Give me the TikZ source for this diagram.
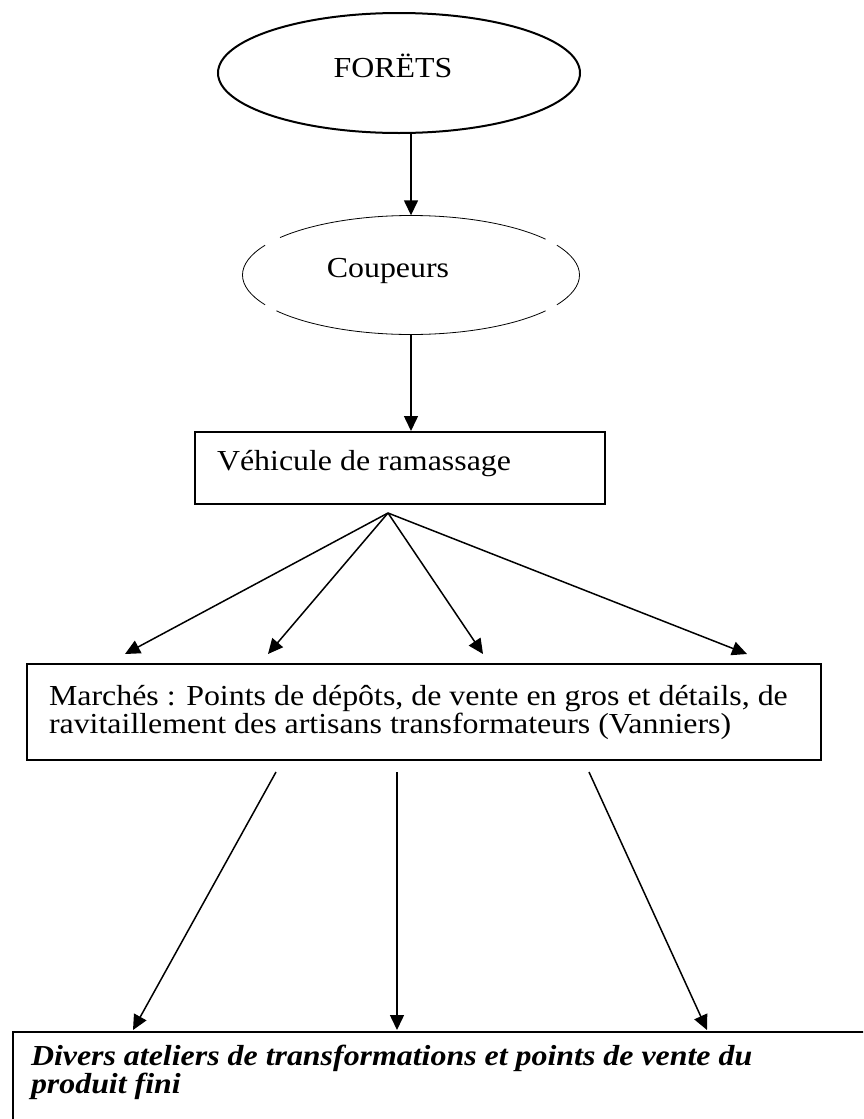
\documentclass[tikz,border=0pt]{standalone}
\usepackage{fontspec}
\setmainfont[FakeStretch=1.1]{Liberation Serif}
\usetikzlibrary{shapes, arrows, arrows.meta}

\begin{document}
\begin{tikzpicture}[x=1pt, y=1pt,
            txt/.style={font=\fontsize{29}{28}\selectfont},
            oval/.style={ellipse, inner sep=0pt},
            rbox/.style={draw, line width=2pt, rectangle, anchor=north west, align=flush left, inner xsep=22pt, txt},
            arr/.style={-{Triangle[length=15pt, width=14pt]}, line width=1.5pt}]
            \clip (0,0) rectangle (863,-1119);
            \fill[white] (0,0) rectangle (863,-1119);

            \node[oval, draw, line width=2pt, minimum width=362pt, minimum height=120pt] (forets) at (399,-73) {};
            \node[txt, anchor=base] (forets-txt) at (393,-77) {FORËTS};

            \node[oval, minimum width=337pt, minimum height=119pt] (coupeurs) at (411,-275) {};
            \foreach \a/\b in {37/141, 150/210, 217/323, 330/390}
                \draw[line width=0.8pt] ([shift={(\a:168.5pt and 59.5pt)}]coupeurs.center) arc[start angle=\a, end angle=\b, x radius=168.5pt, y radius=59.5pt];
            \node[txt, anchor=base] (coupeurs-txt) at (388,-277) {Coupeurs};

            \node[rbox, text width=366pt, minimum height=72pt, text depth=15pt] (vehicule) at (194,-431) {Véhicule de ramassage};
            \node[rbox, text width=750pt, minimum height=96pt] (marches) at (26,-663) {Marchés : Points de dépôts, de vente en gros et détails, de\\ravitaillement des artisans transformateurs (Vanniers)};
            \node[rbox, inner xsep=18pt, inner ysep=13pt, text width=900pt, text depth=80pt, font=\fontsize{29}{28}\selectfont\bfseries\itshape] (ateliers) at (12,-1031) {Divers ateliers de transformations et points de vente du\\produit fini};

            \draw[arr] (forets.south -| coupeurs.north) -- (coupeurs.north);
            \draw[arr] (coupeurs.south) -- (coupeurs.south |- vehicule.north);

            % vers les marches
            \coordinate (fan) at (388,-513);
            \foreach \x [count=\i] in {125, 268, 483, 747} {
                \coordinate (m\i) at (\x,-654);
                \draw[arr] (fan) -- (m\i);
            }

            % vers les ateliers
            \foreach \a/\b [count=\i] in {276/133, 397/397, 589/707} {
                \coordinate (s\i) at (\a,-772);
                \coordinate (e\i) at (\b,-1030);
                \draw[arr] (s\i) -- (e\i);
            }
\end{tikzpicture}
\end{document}
